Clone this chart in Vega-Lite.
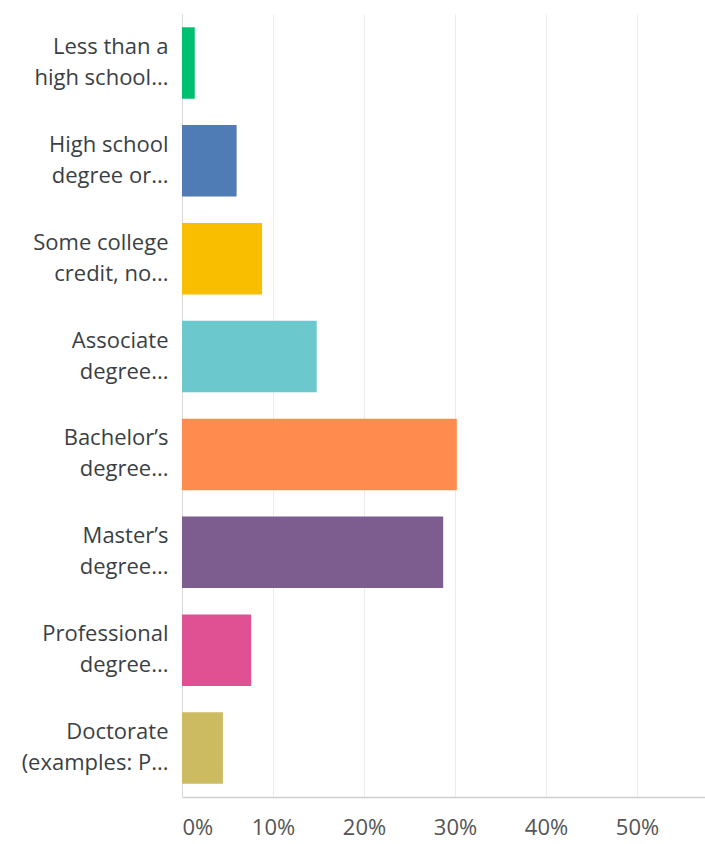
{
  "$schema": "https://vega.github.io/schema/vega-lite/v6.json",
  "width": 523,
  "height": 783,
  "autosize": {"type": "none"},
  "padding": {"left": 182, "top": 14, "right": 0, "bottom": 47},
  "background": "white",
  "data": {
    "values": [
      {"label": "Less than a|high school...", "value": 0.014, "color": "#00bf6f", "order": 1},
      {"label": "High school|degree or...", "value": 0.060, "color": "#507cb6", "order": 2},
      {"label": "Some college|credit, no...", "value": 0.088, "color": "#f9be00", "order": 3},
      {"label": "Associate|degree...", "value": 0.148, "color": "#6bc8cd", "order": 4},
      {"label": "Bachelor’s|degree...", "value": 0.302, "color": "#ff8b4f", "order": 5},
      {"label": "Master’s|degree...", "value": 0.287, "color": "#7d5c8f", "order": 6},
      {"label": "Professional|degree...", "value": 0.076, "color": "#e05194", "order": 7},
      {"label": "Doctorate|(examples: P...", "value": 0.045, "color": "#cdbb62", "order": 8}
    ]
  },
  "mark": {"type": "bar"},
  "encoding": {
    "y": {
      "field": "label",
      "type": "nominal",
      "sort": {"field": "order"},
      "scale": {"paddingInner": 0.27, "paddingOuter": 0.135},
      "axis": {
        "title": null,
        "labelExpr": "split(datum.label, '|')",
        "labelFont": "Open Sans",
        "labelFontSize": 22,
        "labelLineHeight": 31,
        "labelOffset": -16,
        "labelColor": "#3a3f44",
        "labelPadding": 14,
        "labelLimit": 200,
        "ticks": false,
        "domainColor": "#d9d9d9",
        "domainWidth": 1
      }
    },
    "x": {
      "field": "value",
      "type": "quantitative",
      "scale": {"domain": [0, 0.5747], "nice": false},
      "axis": {
        "title": null,
        "values": [0, 0.1, 0.2, 0.3, 0.4, 0.5],
        "format": ".0%",
        "labelFont": "Open Sans",
        "labelFontSize": 22,
        "labelColor": "#555555",
        "labelPadding": 20,
        "labelAlign": {"condition": {"test": "datum.value === 0", "value": "left"}, "value": "center"},
        "ticks": false,
        "domainColor": "#d0d0d0",
        "domainWidth": 1.5,
        "grid": true,
        "gridColor": "#ececec",
        "gridWidth": 1
      }
    },
    "color": {"field": "color", "type": "nominal", "scale": null}
  },
  "config": {"view": {"stroke": null}}
}
